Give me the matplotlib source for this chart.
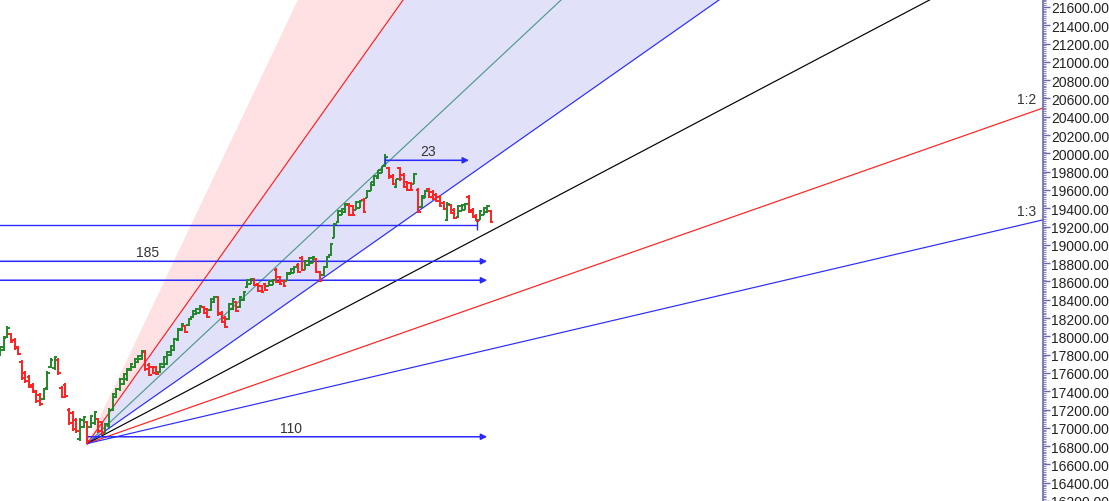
import numpy as np
import matplotlib.pyplot as plt
from matplotlib.ticker import MultipleLocator, FormatStrFormatter

plt.rcParams['font.family'] = ['Liberation Sans', 'DejaVu Sans']

# daily bars, one row of ten per line
opens = [17800, 17850, 17995, 18020, 17960, 17880, 17720, 17600, 17560, 17470,
         17400, 17360, 17320, 17430, 17670, 17650, 17740, 17440, 17470, 17200,
         17160, 17090, 16880, 17010, 17060, 17010, 17050, 17095, 17060, 16945,
         17020, 17200, 17340, 17420, 17480, 17530, 17630, 17665, 17720, 17750,
         17830, 17690, 17660, 17665, 17610, 17670, 17700, 17800, 17850, 17960,
         18070, 18110, 18120, 18210, 18240, 18260, 18320, 18295, 18290, 18370,
         18425, 18260, 18205, 18190, 18300, 18370, 18320, 18395, 18535, 18575,
         18625, 18570, 18545, 18570, 18555, 18565, 18730, 18645, 18600, 18610,
         18685, 18695, 18785, 18860, 18730, 18775, 18805, 18840, 18700, 18665,
         18755, 18885, 19080, 19250, 19330, 19355, 19440, 19420, 19385, 19405,
         19495, 19515, 19590, 19650, 19735, 19790, 19870, 19845, 19755, 19630,
         19840, 19765, 19690, 19680, 19670, 19600, 19410, 19515, 19605, 19580,
         19550, 19525, 19460, 19270, 19430, 19385, 19300, 19375, 19385, 19525,
         19385, 19320, 19275, 19330, 19355, 19365]
highs = [17894, 18003, 18112, 18036, 17981, 17894, 17741, 17621, 17578, 17490,
         17414, 17381, 17436, 17621, 17763, 17785, 17763, 17458, 17490, 17218,
         17185, 17109, 17109, 17131, 17076, 17142, 17185, 17109, 17076, 17055,
         17218, 17381, 17436, 17545, 17600, 17654, 17709, 17763, 17796, 17850,
         17850, 17709, 17676, 17676, 17709, 17785, 17839, 17905, 17981, 18090,
         18145, 18123, 18199, 18286, 18308, 18341, 18330, 18308, 18417, 18439,
         18439, 18275, 18221, 18362, 18417, 18384, 18439, 18493, 18624, 18635,
         18635, 18580, 18559, 18580, 18613, 18624, 18744, 18657, 18613, 18700,
         18744, 18766, 18798, 18875, 18831, 18864, 18875, 18853, 18711, 18766,
         18875, 19017, 19234, 19376, 19398, 19452, 19452, 19431, 19474, 19485,
         19507, 19594, 19692, 19758, 19823, 19867, 19990, 19856, 19769, 19725,
         19856, 19780, 19703, 19692, 19780, 19616, 19540, 19594, 19616, 19594,
         19562, 19540, 19474, 19463, 19441, 19398, 19431, 19441, 19452, 19540,
         19398, 19333, 19376, 19409, 19431, 19376]
lows = [17785, 17839, 17981, 17926, 17850, 17796, 17523, 17490, 17436, 17381,
        17273, 17240, 17305, 17414, 17654, 17632, 17578, 17327, 17327, 17033,
        16967, 16946, 16858, 17000, 16828, 17000, 17033, 16946, 16924, 16935,
        17000, 17185, 17327, 17403, 17469, 17512, 17621, 17654, 17709, 17741,
        17621, 17567, 17589, 17578, 17600, 17654, 17687, 17785, 17839, 17948,
        18057, 18036, 18112, 18199, 18232, 18254, 18243, 18199, 18275, 18362,
        18221, 18145, 18090, 18177, 18286, 18264, 18308, 18384, 18526, 18570,
        18548, 18482, 18471, 18493, 18548, 18559, 18580, 18559, 18537, 18602,
        18679, 18690, 18690, 18711, 18722, 18766, 18799, 18690, 18591, 18657,
        18744, 18875, 19071, 19235, 19322, 19344, 19311, 19311, 19376, 19398,
        19344, 19507, 19583, 19638, 19725, 19780, 19856, 19725, 19649, 19616,
        19703, 19616, 19583, 19583, 19660, 19343, 19398, 19507, 19507, 19485,
        19463, 19409, 19376, 19256, 19333, 19278, 19289, 19365, 19376, 19343,
        19289, 19256, 19267, 19322, 19344, 19234]
closes = [17880, 17985, 18090, 17940, 17870, 17810, 17540, 17510, 17450, 17395,
          17290, 17260, 17420, 17600, 17745, 17770, 17595, 17340, 17345, 17050,
          16985, 16960, 17090, 17120, 16860, 17130, 17170, 16965, 16940, 17040,
          17200, 17370, 17425, 17530, 17590, 17640, 17700, 17750, 17785, 17840,
          17640, 17580, 17600, 17590, 17700, 17775, 17830, 17895, 17970, 18080,
          18135, 18045, 18190, 18280, 18300, 18330, 18255, 18210, 18405, 18430,
          18240, 18160, 18105, 18350, 18405, 18280, 18430, 18485, 18615, 18630,
          18560, 18495, 18485, 18505, 18605, 18615, 18595, 18570, 18550, 18690,
          18740, 18760, 18700, 18725, 18820, 18855, 18870, 18705, 18605, 18760,
          18865, 19005, 19225, 19365, 19390, 19445, 19325, 19325, 19465, 19480,
          19360, 19585, 19685, 19750, 19815, 19860, 19965, 19740, 19665, 19715,
          19715, 19630, 19600, 19595, 19770, 19360, 19530, 19585, 19520, 19500,
          19475, 19420, 19390, 19450, 19345, 19290, 19420, 19435, 19445, 19355,
          19300, 19265, 19370, 19400, 19420, 19245]

# gann fan from the swing low
fan_origin_bar = 24
fan_origin_price = 16828
fan_unit = 27.9  # points per bar for 1:1
fan_ratios = [3, 2, 4 / 3, 1, 3 / 4, 1 / 2, 1 / 3]
fan_colors = [None, '#ff2020', '#4f9a90', '#2a2aff', '#000000', '#ff2020', '#2a2aff']

# horizontal levels and counts
level_19213 = 19213
level_185 = 18820
level_18613 = 18613
count_110_price = 16902
count_23_price = 19924
peak_bar = 106

RED = '#ff2020'
GREEN = '#22862a'
BLUE = '#2a2aff'

fig = plt.figure(figsize=(11.09, 5.02), dpi=100)
ax = fig.add_axes([0, 0, 1043 / 1109, 1])
x_max = 286.9
ax.set_xlim(0, x_max)
ax.set_ylim(16200, 21687)

# fan fills
xs = np.linspace(fan_origin_bar, x_max, 300)
fan = [fan_origin_price + fan_unit * r * (xs - fan_origin_bar) for r in fan_ratios]
ax.fill_between(xs, fan[1], fan[0], color='#ffe1e3', lw=0, zorder=1)
ax.fill_between(xs, fan[3], fan[1], color='#e1e1fa', lw=0, zorder=1)
for line, c in zip(fan, fan_colors):
    if c is not None:
        ax.plot(xs, line, color=c, lw=0.85, zorder=2)

# OHLC bars
idx = np.arange(len(closes))
o = np.array(opens)
c = np.array(closes)
cols = [GREEN if cc >= oo else RED for oo, cc in zip(o, c)]
ax.vlines(idx, lows, highs, colors=cols, lw=1.4, zorder=4)
ax.hlines(o, idx - 0.7, idx, colors=cols, lw=1.4, zorder=4)
ax.hlines(c, idx, idx + 0.7, colors=cols, lw=1.4, zorder=4)

# horizontal lines and bar counts
arrow = dict(arrowstyle='-|>', color=BLUE, lw=1.1, mutation_scale=9,
             shrinkA=0, shrinkB=0)
ax.hlines(level_19213, -5, 131.3, color=BLUE, lw=1.0, zorder=3)
ax.vlines(131.3, 19160, 19265, color=BLUE, lw=1.0, zorder=5)
ax.annotate('', xy=(134, level_185), xytext=(134 - 185, level_185), arrowprops=arrow, zorder=3)
ax.annotate('', xy=(134, level_18613), xytext=(134 - 185, level_18613), arrowprops=arrow, zorder=3)
ax.annotate('', xy=(134, count_110_price), xytext=(fan_origin_bar, count_110_price),
            arrowprops=arrow, zorder=3)
ax.vlines(fan_origin_bar, fan_origin_price, count_110_price + 15, color=BLUE, lw=1.0, zorder=3)
ax.annotate('', xy=(peak_bar + 23, count_23_price), xytext=(peak_bar, count_23_price),
            arrowprops=arrow, zorder=3)
ax.vlines(peak_bar, 19880, 19965, color=BLUE, lw=1.0, zorder=5)

txt = dict(fontsize=10, color='#333333', ha='center', va='center')
ax.text(40.7, 18918, '185', **txt)
ax.text(80, 17000, '110', **txt)
ax.text(117.7, 20030, '23', **txt)
ax.text(282.4, 20597, '1:2', **txt)
ax.text(282.4, 19365, '1:3', **txt)

# right price axis
for s in ['left', 'top', 'bottom']:
    ax.spines[s].set_visible(False)
ax.spines['right'].set_color('#6a6aa8')
ax.spines['right'].set_linewidth(1.2)
ax.set_xticks([])
ax.yaxis.tick_right()
ax.yaxis.set_major_locator(MultipleLocator(200))
ax.yaxis.set_minor_locator(MultipleLocator(20))
ax.yaxis.set_major_formatter(FormatStrFormatter('%.2f'))
ax.tick_params(axis='y', which='major', length=5, width=1, color='#6a6aa8',
               labelsize=10, labelcolor='#222222', pad=1)
ax.tick_params(axis='y', which='minor', length=2.5, width=0.8, color='#8a8ac0')

fig.savefig('out.png', dpi=100)
